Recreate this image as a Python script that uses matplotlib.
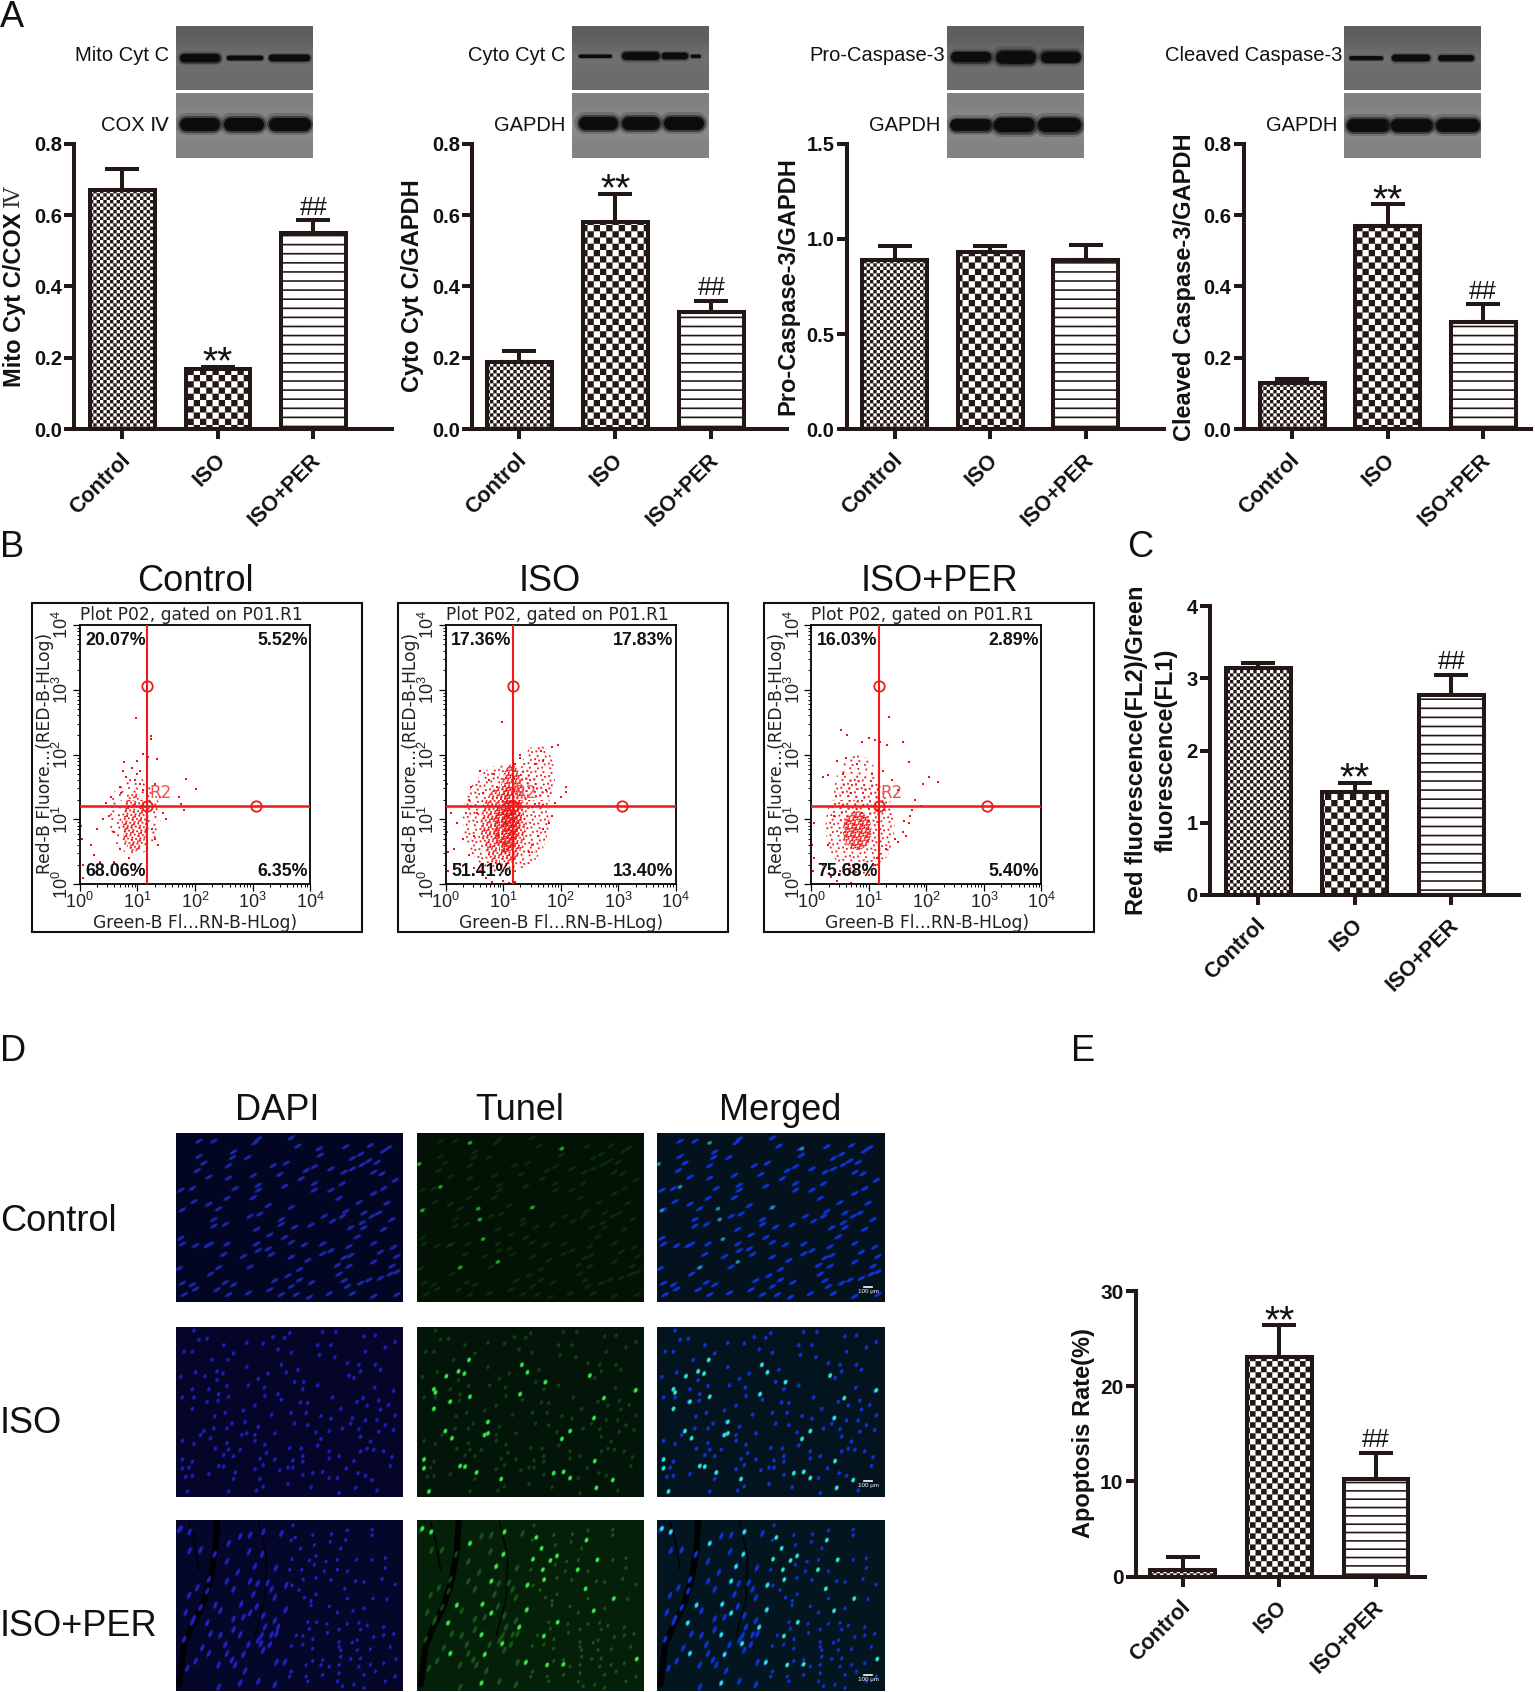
import numpy as np
import matplotlib
matplotlib.use("Agg")
import matplotlib.pyplot as plt
import matplotlib.hatch as mhatch
from matplotlib.path import Path
from matplotlib.patches import Rectangle, Ellipse
from matplotlib.collections import EllipseCollection
from matplotlib.ticker import LogLocator, NullFormatter, FixedLocator, FixedFormatter
from matplotlib.transforms import ScaledTranslation

plt.rcParams['font.family'] = ['Liberation Sans', 'DejaVu Sans']
plt.rcParams['hatch.linewidth'] = 0.05

# ---------- data ----------
groups = ['Control', 'ISO', 'ISO+PER']
mito_vals = [0.67, 0.17, 0.55];  mito_tops = [0.73, 0.176, 0.585]
cyto_vals = [0.19, 0.58, 0.33];  cyto_tops = [0.22, 0.66, 0.36]
pro_vals = [0.89, 0.93, 0.89];   pro_tops = [0.96, 0.96, 0.97]
clv_vals = [0.13, 0.57, 0.30];   clv_tops = [0.14, 0.63, 0.35]
jc1_vals = [3.14, 1.43, 2.77];   jc1_tops = [3.22, 1.55, 3.05]
apo_vals = [0.7, 23.1, 10.3];    apo_tops = [2.1, 26.4, 13.0]
sig_marks = ['', '**', '##']
no_marks = ['', '', '']

quad_control = ['20.07%', '5.52%', '68.06%', '6.35%']
quad_iso = ['17.36%', '17.83%', '51.41%', '13.40%']
quad_per = ['16.03%', '2.89%', '75.68%', '5.40%']

# flow cytometry events, in decades
ctl_x = [.98,1.23,1.23,1.09,1.18,.76,1.34,1.85,2.02,1.72,1.76,1.81,.02,.03,.05,.35,.45,.2,.3,.6,.55,.7,.75,.8,.9,1.0,1.05,1.1,1.3,1.4,1.45,1.5,1.25,1.3,1.35,.4,.5,.6,.7,.85,.95,1.0,.65,.72,.9,1.05,1.0,.95,.05,.25]
ctl_y = [2.57,2.29,2.24,2.01,1.96,1.88,1.93,1.62,1.47,1.34,1.24,1.14,.9,.7,.3,.35,1.25,.6,.85,.35,1.35,1.5,1.75,1.65,1.8,1.7,1.55,1.45,1.55,1.35,1.1,1.0,.85,.7,.6,1.0,1.05,.8,.55,.4,.3,.2,.3,1.4,.15,1.75,1.9,1.6,.1,.45]
iso_x = [.98,1.95,1.85,1.65,1.7,1.55,1.3,1.2,.6,.45,.4,.0,.02,.03,.05,.2,.3,.25,.15,.35,.4,.5,.6,.7,.8,1.6,1.75,1.9,2.1,2.1,2.0,1.85,1.8,1.7,1.6,1.5,1.45,.95,1.0,1.1,1.2,.1,.05,.55,.65,.85,.75,.9,1.3,.5]
iso_y = [2.5,2.15,2.12,2.05,1.9,1.85,2.0,1.85,1.75,1.5,1.3,1.95,1.55,.8,.5,.95,.7,.3,.55,1.1,.45,.25,.2,.1,.03,1.2,1.45,1.25,1.5,1.42,1.35,1.05,.95,.85,.75,.6,.5,.15,.05,.02,.03,1.1,.2,1.1,1.4,1.7,1.6,1.5,1.95,.75]
per_x = [1.35,.52,.62,.88,1.0,1.1,1.2,1.32,1.6,.3,.2,.45,.6,.8,1.05,1.25,1.4,1.7,1.5,1.8,1.95,2.05,2.2,1.9,1.75,1.72,1.7,1.62,.05,.02,.03,.2,.3,.5,.45,.7,.05,.35,.95,1.15,1.3,1.6,1.65,1.5,1.45,1.1,1.0,.4,.55,.7]
per_y = [2.58,2.38,2.3,2.2,2.25,2.22,2.2,2.15,2.2,1.68,1.65,1.9,1.95,1.85,1.7,1.75,1.6,1.88,1.45,1.3,1.55,1.65,1.58,1.2,1.15,1.05,.95,.98,.95,.6,.2,.3,.6,.2,.05,.02,.4,.12,.3,.4,.55,.8,.75,.65,.7,.3,.15,1.05,1.7,1.4]
cross_log = 1.17
gate_log = 3.06

# nuclei read from the fluorescence fields (field pixels)
r1_x = [70,115,250,240,350,370,435,438,515,590,645,630,175,172,70,85,218,335,295,420,510,535,585,565,535,560,610,470,395,380,315,235,160,65,15,50,100,160,180,250,250,330,420,420,470,505,600,625,665,630,600,495,555,640,235,280,55,20,100,130,155,255,350,450,515,570,595,615,505,320,320,410,475,565,530,570,630,655,115,115,225,245,360,150,285,155,350,330,245,390,445,550,470,525,600,660,20,60,95,15,290,250,280,145,205,350,400,445,510,530,620,670,105,130,225,375,490,525,655,600,10,495,650,670,105,50,20,150,300,340,375,412,510,560,585,620,60,125,175,285,350,520,465,365,405,160,220,320,25,535,600,670]
r1_y = [25,25,18,30,15,40,48,68,42,38,45,55,58,75,72,92,75,92,100,103,120,110,85,97,78,65,90,110,115,140,127,130,100,115,175,170,135,138,170,160,175,163,155,175,175,155,120,125,145,170,185,200,213,215,198,222,210,235,218,232,200,248,228,255,240,245,255,245,255,265,280,282,270,275,290,290,295,265,265,285,255,295,288,280,312,340,335,320,340,342,340,318,360,348,338,350,340,345,345,322,372,360,355,372,378,380,390,370,382,375,365,378,340,412,410,418,405,408,408,395,415,432,432,425,432,465,460,458,452,437,450,458,452,460,450,445,478,480,465,480,470,470,492,495,503,495,490,495,495,492,500,495]
r1g_x = [5,15,70,185,190,200,245,130,350,440,160]
r1g_y = [95,237,165,232,265,325,395,412,228,48,30]

r2_x = [55,70,95,145,215,265,295,345,330,310,350,430,470,445,485,570,605,635,665,575,25,50,110,158,175,215,280,320,335,370,482,435,520,555,605,620,560,525,15,60,88,125,143,125,220,250,268,310,270,320,360,388,385,430,475,540,603,660,50,100,130,155,160,55,20,128,95,240,205,150,50,118,210,250,290,350,395,378,400,440,470,500,550,568,580,615,620,645,535,530,575,610,635,665,360,400,505,465,425,440,555,560,615,660,590,170,115,85,155,200,215,240,300,75,105,20,55,155,120,160,195,270,275,240,380,385,345,430,465,495,560,580,630,540,600,655,465,20,50,145,175,255,355,300,385,265,40,20,130,145,180,240,315,340,355,385,415,445,490,465,517,553,575,650,30,50,100,175,255,340,265,595,545,35,160,245,495,410,610]
r2_y = [10,38,35,55,48,50,30,18,32,68,78,55,55,15,15,28,25,62,45,75,75,75,100,100,80,122,142,115,138,130,92,85,110,115,115,130,135,148,152,138,150,135,142,162,178,158,185,205,210,222,168,168,190,178,215,155,185,195,190,190,205,180,213,215,215,225,228,240,255,262,250,273,290,305,268,262,262,230,232,272,280,250,228,217,240,225,252,238,278,295,285,285,300,270,295,300,310,318,322,342,312,335,320,315,350,295,310,318,310,330,325,330,325,330,340,348,358,355,372,375,375,360,385,348,372,395,370,362,380,395,380,372,380,410,375,398,402,405,412,392,395,403,408,405,412,422,430,432,425,427,445,435,438,430,430,452,447,443,462,462,432,447,455,425,458,455,450,465,465,480,488,468,492,503,503,500,508,490,500]
r2g_x = [125,157,143,88,50,55,318,335,313,215,85,105,205,215,50,20,130,145,180,255,415,445,465,595,545,540,465,440,538,568,390,525,100,160,20,35,665]
r2g_y = [135,100,142,150,190,200,115,138,205,290,318,340,330,325,250,405,425,427,445,465,447,443,462,468,492,410,318,342,278,217,168,148,228,213,432,503,193]

r3_x = [15,42,10,75,42,118,155,195,225,222,160,265,320,355,362,378,350,415,472,515,520,595,595,420,468,500,262,352,405,425,420,455,490,548,595,635,240,303,382,345,450,490,520,470,635,100,155,188,225,248,278,335,352,386,373,425,512,545,570,625,665,40,65,95,175,235,290,300,390,410,425,520,598,640,30,75,120,135,198,245,225,333,465,410,537,570,490,55,95,50,175,205,265,300,310,270,400,427,458,520,555,580,630,495,405,105,175,135,195,260,290,305,365,385,460,560,660,600,25,150,220,250,258,285,350,385,415,495,535,550,630,80,100,155,205,265,415,495,500,550,590,650,60,130,170,180,305,330,395,415,445,500,530,495,560,668,630,35,210,350,440,465,495,555,590,605,345,395,445,570,195,250,400,490,540,635,665,130,300,505,570]
r3_y = [25,35,28,90,92,103,125,48,45,95,70,35,40,15,52,85,60,45,42,60,30,45,28,75,65,85,103,118,122,108,135,125,120,120,120,115,140,145,150,150,155,150,155,182,145,180,185,158,185,192,190,197,198,180,212,175,208,185,188,178,195,228,205,215,210,225,210,235,235,245,225,238,238,240,280,265,258,275,255,262,282,272,262,258,275,268,280,298,312,310,300,295,290,305,325,325,310,310,315,315,312,320,325,332,330,345,333,350,348,350,348,345,350,352,342,332,345,355,362,378,378,365,375,378,382,378,362,370,372,365,350,388,405,405,408,395,390,385,395,395,392,385,428,440,425,440,432,432,440,428,425,415,422,440,420,422,435,450,458,460,440,445,465,445,440,460,475,475,470,470,495,490,490,490,500,490,475,508,500,505,510]
r3g_x = [160,42,15,265,362,378,240,262,352,405,425,382,386,335,225,120,198,333,225,93,427,310,195,385,258,100,205,548,488,512,598,515,537,668,395,445,330,195]
r3g_y = [70,35,25,35,52,85,140,103,118,122,108,150,180,197,185,258,255,272,282,312,310,325,348,352,375,405,408,120,150,208,238,60,275,422,440,438,432,495]

# western blot lanes: start, end, band height, centre line
blot_sets = {
    'Mito Cyt C': ([.03,.37,.68],[.32,.64,.98],[.13,.07,.10],.51),
    'COX Ⅳ': ([.03,.345,.68],[.32,.64,.98],[.20,.20,.20],.48),
    'Cyto Cyt C': ([.05,.365,.66,.87],[.29,.64,.85,.94],[.05,.12,.10,.05],.48),
    'GAPDH2': ([.05,.365,.67],[.335,.64,.96],[.20,.20,.20],.47),
    'Pro-Caspase-3': ([.025,.355,.68],[.32,.645,.97],[.16,.20,.17],.49),
    'GAPDH3': ([.025,.345,.665],[.33,.64,.975],[.18,.22,.22],.50),
    'Cleaved Caspase-3': ([.04,.35,.69],[.28,.63,.95],[.06,.10,.09],.50),
    'GAPDH4': ([.02,.34,.67],[.33,.645,.985],[.20,.20,.20],.50),
}

# ---------- layout helpers (reference px at 1423 wide) ----------
W, H = 1423.0, 1568.0
fig = plt.figure(figsize=(15.35, 16.92), dpi=100, facecolor='white')
DARK = '#231815'

def axpx(x0, y0, x1, y1, **kw):
    return fig.add_axes([x0/W, 1-y1/H, (x1-x0)/W, (y1-y0)/H], **kw)

def ftext(x, y, s, **kw):
    kw.setdefault('ha', 'left'); kw.setdefault('va', 'center')
    return fig.text(x/W, 1-y/H, s, **kw)

# ---------- bar hatches ----------
class Tiles(mhatch.HatchPatternBase):
    def __init__(self, hatch, density):
        r = []
        nO, no, nl, nd = hatch.count('O'), hatch.count('o'), hatch.count('-'), hatch.count('.')
        def checker(n):
            for i in range(n):
                for j in range(n):
                    if (i+j) % 2 == 0:
                        r.append((i/n, j/n, 1/n, 1/n))
        if nO:
            checker(16 if nO == 1 else 18)
        if no:
            checker(30)
        if nl:
            n = 11 if nl == 1 else 12
            for i in range(n):
                r.append((0, i/n, 1, .016))
        if nd:
            for i in range(140*nd):
                r.append(((i*.7548776662) % 1, (i*.5698402910) % 1, .017, .017))
        self.rects = r
        self.num_vertices = len(r)*5
    def set_vertices_and_codes(self, vertices, codes):
        for k, (x, y, w, h) in enumerate(self.rects):
            vertices[k*5:k*5+5] = [(x, y), (x+w, y), (x+w, y+h), (x, y+h), (x, y)]
            codes[k*5:k*5+5] = [Path.MOVETO, Path.LINETO, Path.LINETO, Path.LINETO, Path.CLOSEPOLY]
mhatch._hatch_types[:] = [Tiles]

# ---------- bar panels ----------
def barpanel(x_axis, x_end, c0, step, bw, ytop, ybot, vals, tops, ymax, ticks, fmt,
             hatches=('o', 'O', '-'), tick_fs=14.5, marks=sig_marks):
    ax = axpx(x_axis, ytop, x_end, ybot)
    ax.patch.set_alpha(0)
    pos = np.arange(len(vals))
    ax.set_xlim((x_axis-c0)/step, (x_end-c0)/step)
    ax.set_ylim(0, ymax)
    width = bw/step
    lower = np.zeros(len(vals)); upper = np.array(tops)-np.array(vals)
    ax.errorbar(pos, vals, yerr=[lower, upper], fmt='none', ecolor=DARK, elinewidth=2.9,
                capsize=12, capthick=2.9, zorder=2, clip_on=False)
    ax.bar(pos, vals, width=width, facecolor='white', edgecolor=DARK, linewidth=2.9, zorder=3)
    for p, h in zip(ax.patches, hatches):
        p.set_hatch(h)
    for s in ('top', 'right'):
        ax.spines[s].set_visible(False)
    for s in ('left', 'bottom'):
        ax.spines[s].set_linewidth(2.9); ax.spines[s].set_color(DARK); ax.spines[s].set_zorder(5)
    ax.set_xticks(pos); ax.set_yticks(ticks)
    ax.set_yticklabels([fmt % t for t in ticks], fontsize=tick_fs, fontweight='bold', color='#111111')
    ax.set_xticklabels(groups, fontsize=15.5, fontweight='bold', rotation=45, ha='right',
                       rotation_mode='anchor', color='#111111')
    ax.tick_params(axis='y', length=7.5, width=2.9, color=DARK, pad=1.5)
    ax.tick_params(axis='x', length=7.5, width=2.9, color=DARK, pad=7)
    shift = ScaledTranslation(-3/100, 0, fig.dpi_scale_trans)
    for l in ax.get_xticklabels():
        l.set_transform(l.get_transform()+shift)
    for i, m in enumerate(marks):
        if m == '**':
            ax.annotate(m, (i, tops[i]), xytext=(0, -10.5), textcoords='offset points', ha='center',
                        va='bottom', fontsize=28, color='#111111')
        elif m == '##':
            ax.annotate(m, (i, tops[i]), xytext=(0, 0.5), textcoords='offset points', ha='center',
                        va='bottom', fontsize=18, color='#111111')
    return ax

barpanel(69, 363, 113.5, 88.5, 60, 133, 398, mito_vals, mito_tops, .8, [0,.2,.4,.6,.8], '%.1f')
barpanel(438, 730, 481.5, 89, 60, 133, 398, cyto_vals, cyto_tops, .8, [0,.2,.4,.6,.8], '%.1f')
barpanel(785, 1079, 829.5, 88.5, 60, 133, 398, pro_vals, pro_tops, 1.5, [0,.5,1,1.5], '%.1f', marks=no_marks)
barpanel(1153, 1419, 1198, 88.5, 60, 133, 398, clv_vals, clv_tops, .8, [0,.2,.4,.6,.8], '%.1f')
barpanel(1122, 1408, 1166.5, 89.5, 60, 562, 829, jc1_vals, jc1_tops, 4, [0,1,2,3,4], '%d')
barpanel(1053, 1321, 1096.5, 89.5, 60, 1196.5, 1461, apo_vals, apo_tops, 30, [0,10,20,30], '%d',
         hatches=('oo', 'OO', '--'), tick_fs=15)

yl = dict(rotation=90, ha='center', va='center', fontweight='bold', fontsize=17, color='#111111')
ftext(13, 278, 'Mito Cyt C/COX', **yl)
ftext(12, 182, 'Ⅳ', rotation=90, ha='center', va='center', fontsize=16, family='DejaVu Serif', color='#333333')
ftext(382, 265, 'Cyto Cyt C/GAPDH', **yl)
ftext(730, 265, 'Pro-Caspase-3/GAPDH', **yl)
ftext(1098, 266, 'Cleaved Caspase-3/GAPDH', **yl)
ftext(1067, 695, 'Red fluorescence(FL2)/Green\nfluorescence(FL1)', linespacing=1.35, multialignment='center', **yl)
ftext(1004, 1328, 'Apoptosis Rate(%)', **yl)

# ---------- western blots ----------
def blot(x0, y0, x1, y1, key, shades):
    ax = axpx(x0, y0, x1, y1)
    ax.set_xlim(0, 1); ax.set_ylim(1, 0); ax.axis('off')
    ax.imshow(np.array(shades).reshape(-1, 1), cmap='gray', vmin=0, vmax=1, extent=(0, 1, 1, 0),
              aspect='auto', interpolation='bilinear', zorder=1)
    st, en, hs, yc = blot_sets[key]
    pt = (y1-y0)*1535/1423*.72
    for a, b, h in zip(st, en, hs):
        lw = h*pt
        cap = lw/((x1-x0)*1535/1423*.72)/2
        for grow, alpha, col in ((1.7, .28, '#303030'), (1.3, .6, '#1c1c1c'), (1.0, 1, '#0c0c0c')):
            ax.plot([a+cap, b-cap], [yc, yc], color=col, lw=lw*grow, alpha=alpha, zorder=2,
                    solid_capstyle='round')
    ax.set_xlim(0, 1); ax.set_ylim(1, 0)

bx = [163, 530, 878, 1246]
pairs = [('Mito Cyt C', 'COX Ⅳ'), ('Cyto Cyt C', 'GAPDH2'), ('Pro-Caspase-3', 'GAPDH3'), ('Cleaved Caspase-3', 'GAPDH4')]
lab_top = ['Mito Cyt C', 'Cyto Cyt C', 'Pro-Caspase-3', 'Cleaved Caspase-3']
lab_bot = ['COX Ⅳ', 'GAPDH', 'GAPDH', 'GAPDH']
for x, (k1, k2), t1, t2 in zip(bx, pairs, lab_top, lab_bot):
    blot(x, 24, x+127, 83, k1, [.37, .44, .42])
    blot(x, 86, x+127, 146, k2, [.50, .55, .51])
    ftext(x-6 if x != 878 and x != 1246 else x-2, 51.5, t1, ha='right', fontsize=14.5, color='#111111')
    ftext(x-6, 116.5, t2, ha='right', fontsize=14.5, color='#111111')

# ---------- flow cytometry ----------
def flow(x0, title, tx, quads, xs, ys, blobs, show_r2=True):
    fig.add_artist(Rectangle((x0/W, 1-864/H), 306/W, 305/H, transform=fig.transFigure,
                             facecolor='white', edgecolor='#111111', lw=1.5, zorder=-1))
    ax = axpx(x0+44, 579, x0+257.5, 819.5)
    ax.set_xscale('log'); ax.set_yscale('log')
    ax.set_xlim(1, 1e4); ax.set_ylim(1, 1e4)
    for cx, cy, rx, ry, n in blobs:
        ax.add_patch(Ellipse((cx/4, cy/4), 2*rx/4, 2*ry/4, transform=ax.transAxes, facecolor='none',
                             edgecolor='#ee1111', lw=0, hatch='.'*n, zorder=1))
    ax.scatter(10**np.array(xs), 10**np.array(ys), s=2.6, marker='s', color='#ee1111', lw=0, zorder=2, clip_on=False)
    ax.axvline(10**cross_log, color='#f01818', lw=1.5, zorder=3)
    ax.axhline(10**1.2, color='#f01818', lw=1.8, zorder=3)
    ax.plot([10**cross_log, 10**gate_log, 10**cross_log], [10**gate_log, 10**1.2, 10**1.2], ls='none',
            marker='o', ms=7.5, mfc='none', mec='#f01818', mew=1.3, zorder=4)
    if show_r2:
        ax.text(10**1.2, 10**1.27, 'R2', color='#f05050', fontsize=12, family='DejaVu Sans', va='bottom')
    dec = [1, 10, 100, 1000, 10000]
    labs = ['$\\mathdefault{10^{%d}}$' % i for i in range(5)]
    for a in (ax.xaxis, ax.yaxis):
        a.set_major_locator(FixedLocator(dec))
        a.set_major_formatter(FixedFormatter(labs))
        a.set_minor_locator(LogLocator(base=10, subs=np.arange(2, 10)*1.0, numticks=20))
        a.set_minor_formatter(NullFormatter())
    ax.tick_params(which='major', length=5, width=.9, labelsize=13, pad=0.5, labelcolor='#222222')
    ax.tick_params(which='minor', length=2.5, width=.7)
    for l in ax.get_yticklabels():
        l.set_rotation(90); l.set_va('center')
    for s in ax.spines.values():
        s.set_linewidth(1.3)
    fnt = dict(fontsize=12.8, fontweight='bold', color='#111111', transform=ax.transAxes, va='center', zorder=6)
    ax.text(.025, .94, quads[0], ha='left', **fnt)
    ax.text(.99, .94, quads[1], ha='right', **fnt)
    ax.text(.025, .05, quads[2], ha='left', **fnt)
    ax.text(.99, .05, quads[3], ha='right', **fnt)
    mono = dict(family='DejaVu Sans', color='#222222', fontsize=12.3, va='center')
    ftext(x0+44, 569.5, 'Plot P02, gated on P01.R1', **mono)
    ftext(x0+151, 855, 'Green-B Fl...RN-B-HLog)', ha='center', **mono)
    ftext(x0+12, 698, 'Red-B Fluore...(RED-B-HLog)', rotation=90, ha='center', **mono)
    ftext(tx, 539, title, ha='center', fontsize=26, color='#111111')

flow(30, 'Control', 181, quad_control, ctl_x, ctl_y,
     [(.95, 1.05, .45, .6, 2), (.95, .95, .22, .45, 7)])
flow(369, 'ISO', 510, quad_iso, iso_x, iso_y,
     [(1.05, 1.0, .75, .85, 3), (1.0, .9, .38, .62, 8), (1.15, 1.3, .2, .55, 10),
      (1.05, .9, .2, .42, 14), (1.6, 1.65, .3, .5, 3)])
flow(708, 'ISO+PER', 871, quad_per, per_x, per_y,
     [(.85, .9, .6, .75, 3), (.8, 1.4, .4, .6, 2), (.8, .83, .25, .3, 12)])

# ---------- fluorescence fields ----------
def field(x0, y0, x1, y1, bg, xs, ys, col, ang, wid, hei, gx=None, gy=None, gcol=None, faint=None,
          folds=None, scale=False):
    ax = axpx(x0, y0, x1, y1)
    ax.set_xlim(0, 690); ax.set_ylim(519, 0); ax.axis('off')
    ax.add_patch(Rectangle((0, 0), 690, 519, facecolor=bg, edgecolor='none', zorder=0))
    if folds:
        for fx, fy, lw in folds:
            ax.plot(fx, fy, color='#000000', lw=lw, alpha=.9, zorder=1, solid_capstyle='round')
    k = 1/3*.72
    xs = np.array(xs); ys = np.array(ys)
    w = np.broadcast_to(wid(xs) if callable(wid) else wid, xs.shape)*k
    h = np.broadcast_to(hei(xs) if callable(hei) else hei, xs.shape)*k
    base = faint if faint else 1
    for grow, a in ((1.4, .25), (1.0, .95)):
        ax.add_collection(EllipseCollection(w*grow, h*grow, np.full(xs.shape, ang), units='points',
                          offsets=np.c_[xs, ys], offset_transform=ax.transData,
                          facecolors=col, edgecolors='none', alpha=base*a, zorder=2))
    if gx is not None:
        gx = np.array(gx); gy = np.array(gy)
        for grow, a in ((1.4, .35), (1.0, 1)):
            ax.add_collection(EllipseCollection(np.full(gx.shape, 13*k*grow), np.full(gx.shape, 9*k*grow),
                              np.full(gx.shape, ang), units='points', offsets=np.c_[gx, gy],
                              offset_transform=ax.transData, facecolors=gcol, edgecolors='none',
                              alpha=a, zorder=3))
    if scale:
        ax.plot([628, 652], [471, 471], color='white', lw=1.2, zorder=5)
        ax.text(640, 485, '100 μm', color='white', fontsize=4.5, ha='center', va='center', zorder=5)

cols = [(163, 374), (387, 597), (609, 820)]
rows = [(1050, 1207), (1230, 1387), (1409, 1567)]
w3 = lambda x: np.where(x < 340, 21, 11)
h3 = lambda x: np.where(x < 340, 9, 8)
fold3 = [([125, 120, 105, 80, 50, 25, 10], [5, 90, 180, 260, 320, 380, 500], 4.5),
         ([40, 55, 70], [5, 60, 150], 1.2), ([250, 275, 270, 240], [5, 110, 240, 350], 1.0)]
specs = [
    (r1_x, r1_y, 30, 23, 8.5, r1g_x, r1g_y, None),
    (r2_x, r2_y, 65, 12, 9, r2g_x, r2g_y, None),
    (r3_x, r3_y, 65, w3, h3, r3g_x, r3g_y, fold3),
]
bgs = [('#030622', '#021204', '#03121c'), ('#05052a', '#021508', '#03141f'), ('#05072a', '#052008', '#031620')]
dapi_col = ['#1a2ab0', '#2020c4', '#2024c8']
tun_faint = [.12, .22, .3]
tun_g = ['#1f9f2a', '#35e84a', '#38e850']
mer_g = ['#1f8f98', '#30e8c8', '#30e8c8']
for r, ((y0, y1), (xs, ys, ang, wd, ht, gx, gy, fold)) in enumerate(zip(rows, specs)):
    field(cols[0][0], y0, cols[0][1], y1, bgs[r][0], xs, ys, dapi_col[r], ang, wd, ht, folds=fold)
    field(cols[1][0], y0, cols[1][1], y1, bgs[r][1], xs, ys, '#38c040', ang, wd, ht, gx, gy, tun_g[r],
          faint=tun_faint[r], folds=fold)
    field(cols[2][0], y0, cols[2][1], y1, bgs[r][2], xs, ys, '#1034e0', ang, wd, ht, gx, gy, mer_g[r],
          folds=fold, scale=True)

for x, s in zip((257, 482, 723), ('DAPI', 'Tunel', 'Merged')):
    ftext(x, 1029, s, ha='center', fontsize=26, color='#111111')
for y, s in zip((1130, 1317, 1505), ('Control', 'ISO', 'ISO+PER')):
    ftext(0, y+2, s, fontsize=26, color='#111111')

# panel letters
for x, y, s in ((0, 16, 'A'), (0, 507, 'B'), (1045, 507, 'C'), (0, 974, 'D'), (993, 974, 'E')):
    ftext(x, y, s, fontsize=26, color='#111111')

fig.savefig('out.png', dpi=100)
